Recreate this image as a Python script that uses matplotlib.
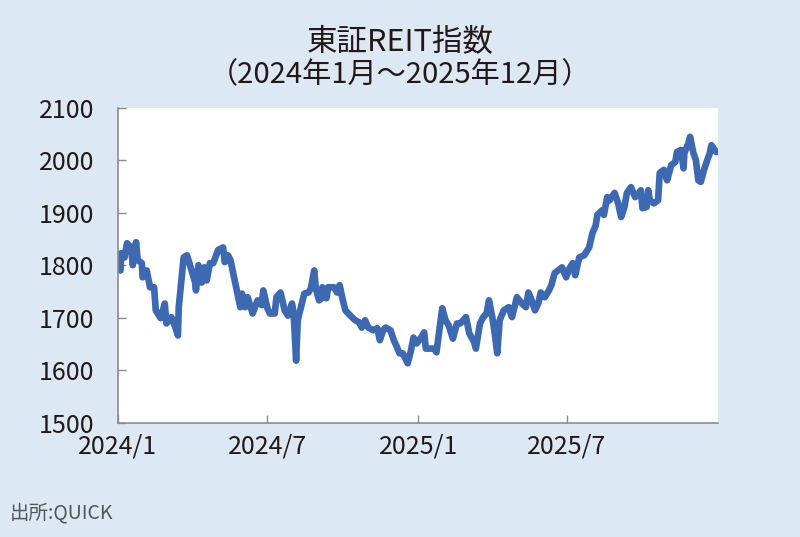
import matplotlib
matplotlib.use("Agg")
import matplotlib.pyplot as plt
import pandas as pd

plt.rcParams['font.family'] = ['Noto Sans CJK JP', 'DejaVu Sans']

# 東証REIT指数 (読み取り値)
dates = [
    "2024-01-04", "2024-01-05", "2024-01-09", "2024-01-12", "2024-01-17", "2024-01-19",
    "2024-01-23", "2024-01-25", "2024-01-30", "2024-01-31", "2024-02-05", "2024-02-09",
    "2024-02-14", "2024-02-16", "2024-02-22", "2024-02-27", "2024-02-29", "2024-03-06",
    "2024-03-11", "2024-03-14", "2024-03-15", "2024-03-21", "2024-03-25", "2024-03-28",
    "2024-04-04", "2024-04-05", "2024-04-08", "2024-04-12", "2024-04-15", "2024-04-18",
    "2024-04-22", "2024-04-26", "2024-05-02", "2024-05-08", "2024-05-10", "2024-05-14",
    "2024-05-17", "2024-05-24", "2024-05-29", "2024-05-31", "2024-06-04", "2024-06-07",
    "2024-06-13", "2024-06-19", "2024-06-24", "2024-06-26", "2024-07-01", "2024-07-04",
    "2024-07-10", "2024-07-12", "2024-07-17", "2024-07-22", "2024-07-26", "2024-07-31",
    "2024-08-02", "2024-08-05", "2024-08-07", "2024-08-09", "2024-08-15", "2024-08-20",
    "2024-08-23", "2024-08-27", "2024-08-29", "2024-09-02", "2024-09-05", "2024-09-06",
    "2024-09-11", "2024-09-13", "2024-09-20", "2024-09-24", "2024-09-27", "2024-10-01",
    "2024-10-04", "2024-10-10", "2024-10-16", "2024-10-21", "2024-10-24", "2024-10-28",
    "2024-11-01", "2024-11-07", "2024-11-12", "2024-11-15", "2024-11-19", "2024-11-22",
    "2024-11-28", "2024-12-02", "2024-12-05", "2024-12-09", "2024-12-13", "2024-12-19",
    "2024-12-23", "2024-12-26", "2024-12-30",
    "2025-01-06", "2025-01-08", "2025-01-10", "2025-01-15", "2025-01-20", "2025-01-23",
    "2025-01-30", "2025-02-03", "2025-02-07", "2025-02-12", "2025-02-17", "2025-02-21",
    "2025-02-28", "2025-03-04", "2025-03-10", "2025-03-12", "2025-03-17", "2025-03-21",
    "2025-03-25", "2025-03-28", "2025-04-01", "2025-04-04", "2025-04-07", "2025-04-10",
    "2025-04-15", "2025-04-21", "2025-04-25", "2025-05-01", "2025-05-07", "2025-05-12",
    "2025-05-15", "2025-05-19", "2025-05-23", "2025-05-27", "2025-05-30", "2025-06-04",
    "2025-06-09", "2025-06-12", "2025-06-16", "2025-06-20", "2025-06-25", "2025-06-30",
    "2025-07-04", "2025-07-08", "2025-07-11", "2025-07-16", "2025-07-22", "2025-07-28",
    "2025-08-01", "2025-08-05", "2025-08-07", "2025-08-13", "2025-08-15", "2025-08-19",
    "2025-08-22", "2025-08-28", "2025-09-01", "2025-09-05", "2025-09-09", "2025-09-12",
    "2025-09-17", "2025-09-22", "2025-09-25", "2025-09-29", "2025-10-01", "2025-10-06",
    "2025-10-08", "2025-10-10", "2025-10-15", "2025-10-20", "2025-10-22", "2025-10-27",
    "2025-10-31", "2025-11-05", "2025-11-10", "2025-11-12", "2025-11-17", "2025-11-20",
    "2025-11-21", "2025-11-26", "2025-11-28", "2025-12-02", "2025-12-05", "2025-12-08",
    "2025-12-11", "2025-12-15", "2025-12-19", "2025-12-22", "2025-12-24", "2025-12-26",
    "2025-12-30",
]
values = [
    1790, 1823, 1815, 1842, 1834, 1800,
    1844, 1810, 1804, 1777, 1790, 1758,
    1758, 1714, 1699, 1727, 1689, 1701,
    1681, 1666, 1720, 1815, 1819, 1804,
    1767, 1752, 1800, 1767, 1796, 1771,
    1804, 1804, 1829, 1834, 1806, 1819,
    1810, 1758, 1720, 1746, 1720, 1739,
    1708, 1733, 1724, 1752, 1718, 1708,
    1708, 1739, 1748, 1714, 1704, 1727,
    1708, 1618, 1695, 1708, 1746, 1748,
    1756, 1790, 1756, 1733, 1737, 1758,
    1737, 1758, 1758, 1748, 1762, 1733,
    1714, 1704, 1695, 1691, 1681, 1695,
    1681, 1676, 1680, 1657, 1676, 1681,
    1676, 1657, 1647, 1632, 1632, 1613,
    1638, 1662, 1651,
    1666, 1672, 1641, 1641, 1641, 1634,
    1718, 1695, 1685, 1660, 1689, 1689,
    1701, 1670, 1653, 1641, 1689, 1701,
    1708, 1733, 1701, 1670, 1632, 1695,
    1714, 1720, 1701, 1739, 1727, 1720,
    1748, 1733, 1714, 1727, 1748, 1739,
    1752, 1762, 1785, 1790, 1796, 1777,
    1794, 1804, 1781, 1815, 1819, 1834,
    1861, 1876, 1896, 1905, 1896, 1930,
    1924, 1938, 1920, 1892, 1911, 1938,
    1949, 1930, 1934, 1943, 1909, 1911,
    1943, 1924, 1918, 1924, 1976, 1982,
    1962, 1991, 1997, 2016, 2020, 1985,
    2014, 2033, 2045, 2014, 2001, 1962,
    1959, 1982, 2001, 2014, 2029, 2024,
    2016,
]

tick_dates = ["2024-01-01", "2024-07-01", "2025-01-01", "2025-07-01"]
tick_labels = ["2024/1", "2024/7", "2025/1", "2025/7"]
y_ticks = [1500, 1600, 1700, 1800, 1900, 2000, 2100]

bg = "#dce8f4"
line_color = "#3d69b3"
text_color = "#231815"

fig = plt.figure(figsize=(8, 5.37), dpi=100, facecolor=bg)
ax = fig.add_axes([0.1475, 0.2132, 0.75, 0.5857])
ax.set_facecolor("white")

ax.plot(pd.to_datetime(dates), values, color=line_color, linewidth=4.8,
        solid_joinstyle="round", solid_capstyle="round")

ax.set_xlim(pd.Timestamp("2024-01-01"), pd.Timestamp("2026-01-01"))
ax.set_ylim(1500, 2100)
ax.set_yticks(y_ticks)
ax.set_xticks(pd.to_datetime(tick_dates))
ax.set_xticklabels(tick_labels)

for side in ["top", "right"]:
    ax.spines[side].set_visible(False)
for side in ["left", "bottom"]:
    ax.spines[side].set_color("#8c8c8c")
    ax.spines[side].set_linewidth(1.2)

ax.tick_params(axis="both", direction="in", length=6, width=1, color="#8c8c8c",
               labelsize=18, labelcolor=text_color)
ax.tick_params(axis="y", pad=17)
ax.tick_params(axis="x", pad=8)

fig.text(0.5, 0.922, "東証REIT指数", ha="center", va="center",
         fontsize=22, color=text_color)
fig.text(0.5, 0.860, "（2024年1月～2025年12月）", ha="center", va="center",
         fontsize=21, color=text_color)
fig.text(0.012, 0.045, "出所:QUICK", ha="left", va="center",
         fontsize=14, color="#555555")

fig.savefig("out.png", dpi=100, facecolor=bg)
